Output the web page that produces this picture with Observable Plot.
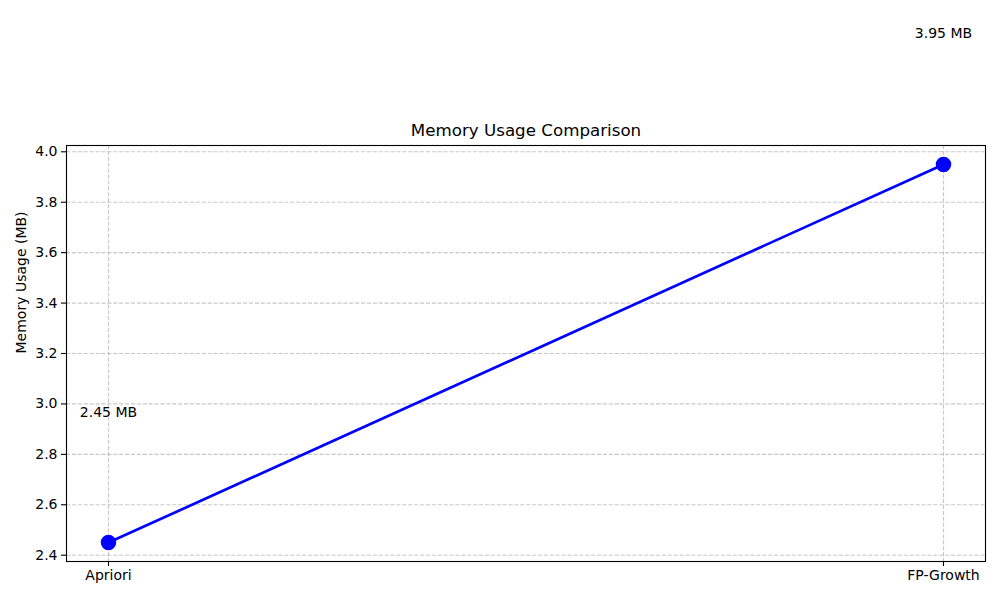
<!DOCTYPE html>
<html>
<head>
<meta charset="utf-8">
<script src="https://cdn.jsdelivr.net/npm/d3@7"></script>
<script src="https://cdn.jsdelivr.net/npm/@observablehq/plot@0.6"></script>
<style>
  body { margin: 0; background: #fff; }
  svg { font-family: "DejaVu Sans", sans-serif; }
</style>
</head>
<body>
<div id="chart"></div>
<script>
const algorithms = ["Apriori", "FP-Growth"];
const memoryMB = [2.45, 3.95];
const yTicks = [2.4, 2.6, 2.8, 3.0, 3.2, 3.4, 3.6, 3.8, 4.0];
const labelOffset = 0.5;

const data = algorithms.map((a, i) => ({algo: a, mem: memoryMB[i], labelY: memoryMB[i] + labelOffset, label: memoryMB[i].toFixed(2) + " MB"}));

const chart = Plot.plot({
  width: 1000,
  height: 600,
  marginTop: 145,
  marginBottom: 39,
  marginLeft: 66,
  marginRight: 15,
  style: {fontFamily: "DejaVu Sans, sans-serif", fontSize: "14px", color: "black", overflow: "visible"},
  x: {type: "point", domain: algorithms, padding: 0.05, label: null},
  y: {domain: [2.375, 4.025], label: null},
  marks: [
    Plot.gridX(algorithms, {stroke: "#b0b0b0", strokeOpacity: 0.7, strokeDasharray: "4.1,1.8", strokeWidth: 1.1}),
    Plot.gridY(yTicks, {stroke: "#b0b0b0", strokeOpacity: 0.7, strokeDasharray: "4.1,1.8", strokeWidth: 1.1}),
    Plot.axisX({tickSize: 5, tickPadding: 4, fontSize: 14, label: null, strokeWidth: 1.1}),
    Plot.axisY({ticks: yTicks, tickSize: 5, tickPadding: 4, fontSize: 14, tickFormat: d3.format(".1f"), label: null, strokeWidth: 1.1}),
    Plot.frame({stroke: "black", strokeWidth: 1.1}),
    Plot.line(data, {x: "algo", y: "mem", stroke: "blue", strokeWidth: 2.7}),
    Plot.dot(data, {x: "algo", y: "mem", r: 7, fill: "blue", stroke: "blue"}),
    Plot.text(data, {x: "algo", y: "labelY", text: "label", fontSize: 14, fill: "black", lineAnchor: "bottom", clip: false}),
    Plot.text(["Memory Usage Comparison"], {frameAnchor: "top", dy: -21, fontSize: 16.7, fill: "black"}),
    Plot.text(["Memory Usage (MB)"], {frameAnchor: "left", rotate: -90, dx: -45, fontSize: 14, fill: "black"})
  ]
});
document.getElementById("chart").appendChild(chart);
</script>
</body>
</html>
